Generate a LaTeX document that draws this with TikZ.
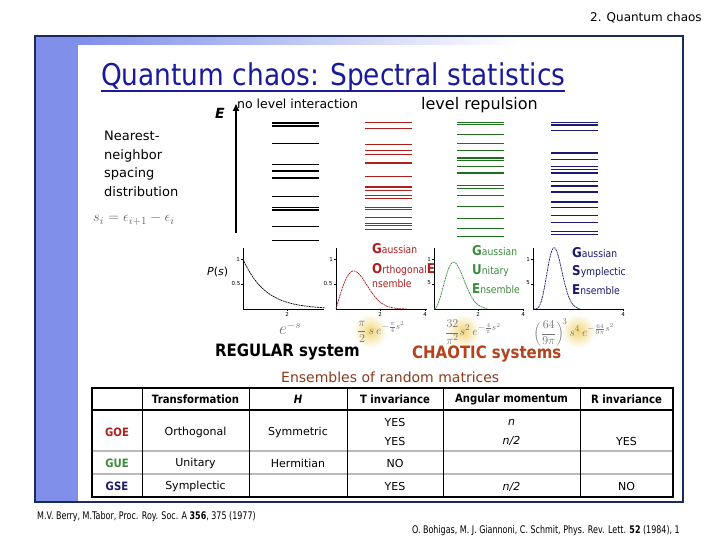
\documentclass[tikz,border=0pt]{standalone}
\usepackage{fontspec}
\setmainfont{DejaVu Sans}
\newfontfamily\nfont[FakeStretch=0.88]{DejaVu Sans}
\newfontfamily\rfont[FakeStretch=0.76]{DejaVu Sans}
\usetikzlibrary{arrows.meta}
\definecolor{framec}{HTML}{1C2A5C}
\definecolor{bandc}{HTML}{7F8FEA}
\definecolor{ttl}{HTML}{1A1A9C}
\definecolor{goer}{HTML}{B01E1E}
\definecolor{gueg}{HTML}{3D8B3D}
\definecolor{gueline}{HTML}{1E6E1E}
\definecolor{gsen}{HTML}{1A1A70}
\definecolor{chaosc}{HTML}{B5421C}
\definecolor{ensc}{HTML}{8C3A1E}
\definecolor{blobc}{RGB}{242,214,120}
\newcommand\fs[1]{\fontsize{#1}{#1}\selectfont}
\newcommand\initcap[2]{{\fs{13.5}\bfseries #1}{\fs{10.5}#2}}
\begin{document}
\begin{tikzpicture}[x=1pt,y=-1pt,
  txt/.style={inner sep=0},
  tk/.style={inner sep=0, font=\fs{5.5}},
  axisl/.style={line width=0.6pt},
  curvel/.style={line width=0.7pt, dash pattern=on 2pt off 0.7pt},
  formula/.style={inner sep=0, text=black!55},
  cell/.style={inner sep=0, font=\fs{11}},
  hcell/.style={inner sep=0, font=\nfont\bfseries\fs{11.5}},
  rcell/.style={inner sep=0, font=\nfont\bfseries\fs{11.5}}]
\useasboundingbox (0,0) rectangle (720,540);
\fill[white] (0,0) rectangle (720,540);
% frame
\fill[bandc] (36,37) rectangle (78,501);
\shade[left color=bandc, right color=white] (78,37) rectangle (520,45);
\draw[framec, line width=2.5pt] (35,36) rectangle (683,502);
% header
\node[txt, anchor=base west, font=\fs{12}] (hdr) at (590,22) {2. Quantum chaos};
% title
\node[txt, anchor=base west, text=ttl, font=\nfont\fs{30}] (title) at (101,86) {Quantum chaos: Spectral statistics};
\draw[ttl, line width=1.6pt] ([yshift=-5pt]title.base west) -- ([yshift=-5pt]title.base east);
% E axis
\node[txt, anchor=base, font=\bfseries\itshape\fs{14}] (E) at (220,119) {E};
\coordinate (ebot) at (236,233);
\coordinate (etop) at (236,104);
\draw[-{Triangle[width=6pt,length=7pt]}, line width=1.6pt] (ebot) -- (etop);
\node[txt, anchor=base west, font=\fs{12.5}] (nli) at (237,109) {no level interaction};
\node[txt, anchor=base west, font=\fs{16}] (lr) at (421,110) {level repulsion};
% nearest neighbour
\node[txt, anchor=base west, font=\fs{13}] (nn1) at (104,141) {Nearest-};
\node[txt, anchor=base west, font=\fs{13}] (nn2) at (104,159.5) {neighbor};
\node[txt, anchor=base west, font=\fs{13}] (nn3) at (104,178) {spacing};
\node[txt, anchor=base west, font=\fs{13}] (nn4) at (104,196.5) {distribution};
\node[txt, anchor=base west, text=black!60, font=\fs{15}] (sdef) at (93,222) {$s_i=\epsilon_{i+1}-\epsilon_i$};
% levels
\foreach \y/\w in {122.7/1.8,125.7/1.8,143.3/1,165/1,170.7/1.9,177.7/1.9,196.3/1,207.7/1,209.3/1,211/1,226.3/1,240/1}
  \draw[line width=\w pt] (272,\y) -- (319,\y);
\foreach \y/\w in {122.7/1,128.3/1,144.3/1,151/1,155/1,162.7/1.9,176.3/1,186.7/1.9,191/1,195.3/1,199/1,207.3/1,210/1,217.3/1,223.3/1,225.7/1,230/1}
  \draw[goer, line width=\w pt] (365,\y) -- (412,\y);
\foreach \y/\w in {122.7/1.1,124.3/1.1,135/1,144/1,150.7/1,157.7/1.8,161/1,166.3/1,172.7/1.8,185.3/1,188.3/1,195.3/1,206.3/1,219/1,229/1,236.3/1}
  \draw[gueline, line width=\w pt, dash pattern=on 1.6pt off 0.4pt] (457,\y) -- (504,\y);
\foreach \y in {122.7,125,130.7,153,159.3,166.7,169.7,173,181.3,186,192,202,207.7,215.3,222.3,231.3,234.3}
  \draw[gsen, line width=1.1pt] (551,\y) -- (598,\y);
% plot 1 regular
\begin{scope}[shift={(243,309)}, x=22pt, y=50pt]
  \draw[axisl] (0,1.22) -- (0,0) -- (3.7,0);
  \draw[axisl] (0,1) -- (-0.08,1) (0,0.5) -- (-0.08,0.5) (2,0) -- (2,-0.04);
  \draw[curvel] plot[domain=0:3.7, samples=60, smooth] (\x,{exp(-\x)});
\end{scope}
% plot 2 GOE
\begin{scope}[shift={(336,309)}, x=22.2pt, y=50pt]
  \draw[axisl] (0,1.22) -- (0,0) -- (4.1,0);
  \draw[axisl] (0,1) -- (-0.08,1) (0,0.5) -- (-0.08,0.5) (2,0) -- (2,-0.04) (4,0) -- (4,-0.04);
  \draw[curvel, goer] plot[domain=0:3.2, samples=60, smooth] (\x,{pi/2*\x*exp(-pi*\x*\x/4)});
\end{scope}
% plot 3 GUE
\begin{scope}[shift={(434,309)}, x=22.2pt, y=50pt]
  \draw[axisl] (0,1.22) -- (0,0) -- (4,0);
  \draw[axisl] (0,1) -- (-0.08,1) (0,0.5) -- (-0.08,0.5) (2,0) -- (2,-0.04) (4,0) -- (4,-0.04);
  \draw[curvel, gueg] plot[domain=0:2.4, samples=60, smooth] (\x,{32/(pi*pi)*\x*\x*exp(-4*\x*\x/pi)});
\end{scope}
% plot 4 GSE
\begin{scope}[shift={(533,309)}, x=22.5pt, y=50pt]
  \draw[axisl] (0,1.22) -- (0,0) -- (4,0);
  \draw[axisl] (0,1) -- (-0.08,1) (0,0.5) -- (-0.08,0.5) (4,0) -- (4,-0.04);
  \draw[curvel, gsen] plot[domain=0:2.1, samples=70, smooth] (\x,{(64/(9*pi))^3*\x*\x*\x*\x*exp(-64*\x*\x/(9*pi))});
\end{scope}
% tick labels
\node[tk] (t11) at (238,259) {1}; \node[tk] (t12) at (236,283) {0.5}; \node[tk] (t13) at (287,314) {2};
\node[tk] (t21) at (331,259) {1}; \node[tk] (t22) at (328,283) {0.5}; \node[tk] (t23) at (380,314) {2}; \node[tk] (t24) at (425,314) {4};
\node[tk] (t31) at (429,259) {1}; \node[tk] (t32) at (429,283) {5}; \node[tk] (t33) at (478,314) {2}; \node[tk] (t34) at (523,314) {4};
\node[tk] (t41) at (528,259) {1}; \node[tk] (t42) at (528,283) {5}; \node[tk] (t44) at (623,314) {4};
\node[txt, anchor=base west, font=\fs{11}] (ps) at (207,275) {\textit{P}(\textit{s})};
% ensemble labels
\node[txt, anchor=base west, text=goer, font=\nfont] (goe1) at (372,254) {\initcap{G}{aussian}};
\node[txt, anchor=base west, text=goer, font=\nfont] (goe2) at (372,273) {\initcap{O}{rthogonal}{\fs{13.5}\bfseries E}};
\node[txt, anchor=base west, text=goer, font=\nfont\fs{10.5}] (goe3) at (372,287) {nsemble};
\node[txt, anchor=base west, text=gueg, font=\nfont] (gue1) at (472,255) {\initcap{G}{aussian}};
\node[txt, anchor=base west, text=gueg, font=\nfont] (gue2) at (472,274) {\initcap{U}{nitary}};
\node[txt, anchor=base west, text=gueg, font=\nfont] (gue3) at (472,293) {\initcap{E}{nsemble}};
\node[txt, anchor=base west, text=gsen, font=\nfont] (gse1) at (572,257) {\initcap{G}{aussian}};
\node[txt, anchor=base west, text=gsen, font=\nfont] (gse2) at (572,275) {\initcap{S}{ymplectic}};
\node[txt, anchor=base west, text=gsen, font=\nfont] (gse3) at (572,294) {\initcap{E}{nsemble}};
% formula blobs
\shade[inner color=blobc, outer color=white] (370,331) circle (17);
\shade[inner color=blobc, outer color=white] (463,331) circle (17);
\shade[inner color=blobc, outer color=white] (578,331) circle (17);
\node[formula, font=\fs{16}] (f1) at (290,328) {$e^{-s}$};
\node[formula, font=\fs{13}] (f2) at (381,332) {$\displaystyle\frac{\pi}{2}\,s\,e^{-\frac{\pi}{4}s^2}$};
\node[formula, font=\fs{13}] (f3) at (473,332) {$\displaystyle\frac{32}{\pi^2}s^2\,e^{-\frac{4}{\pi}s^2}$};
\node[formula, font=\fs{13}] (f4) at (574,332) {$\displaystyle\left(\frac{64}{9\pi}\right)^{\!3} s^4\,e^{-\frac{64}{9\pi}s^2}$};
% systems
\node[txt, anchor=base west, font=\nfont\bfseries\fs{17}] (reg) at (215,356) {REGULAR system};
\node[txt, anchor=base west, text=chaosc, font=\nfont\bfseries\fs{17}] (cha) at (412,358) {CHAOTIC systems};
\node[txt, anchor=base west, text=ensc, font=\fs{14}] (ens) at (281,382) {Ensembles of random matrices};
% table
\draw[gray!55, line width=1.5pt] (92,451) -- (673,451) (92,474) -- (673,474);
\foreach \x in {142,249,347,443,580} \draw[line width=1pt] (\x,388) -- (\x,497);
\draw[line width=2pt] (92,410) -- (673,410);
\draw[line width=2pt] (92,388) rectangle (673,497);
\node[hcell] (h1) at (195.5,399.5) {Transformation};
\node[hcell] (h2) at (298,399.5) {\itshape H};
\node[hcell] (h3) at (395,399.5) {T invariance};
\node[hcell] (h4) at (511.5,399.5) {Angular momentum};
\node[hcell] (h5) at (626.5,399.5) {R invariance};
\node[rcell, text=goer] (goe) at (117,432) {GOE};
\node[cell] (c11) at (195.5,432) {Orthogonal};
\node[cell] (c12) at (298,432) {Symmetric};
\node[cell] (c13) at (395,422) {YES};
\node[cell] (c13b) at (395,441) {YES};
\node[cell] (c14) at (511.5,422) {\itshape n};
\node[cell] (c14b) at (511.5,441) {\itshape n/2};
\node[cell] (c15) at (626.5,441) {YES};
\node[rcell, text=gueg] (gue) at (117,463.5) {GUE};
\node[cell] (c21) at (195.5,463.5) {Unitary};
\node[cell] (c22) at (298,463.5) {Hermitian};
\node[cell] (c23) at (395,463.5) {NO};
\node[rcell, text=gsen] (gse) at (117,486.5) {GSE};
\node[cell] (c31) at (195.5,486.5) {Symplectic};
\node[cell] (c33) at (395,486.5) {YES};
\node[cell] (c34) at (511.5,486.5) {\itshape n/2};
\node[cell] (c35) at (626.5,486.5) {NO};
% references
\node[txt, anchor=base west, font=\rfont\fs{10.5}] (ref1) at (37,519) {M.V. Berry, M.Tabor, Proc. Roy. Soc. A \textbf{356}, 375 (1977)};
\node[txt, anchor=base east, font=\rfont\fs{10.5}] (ref2) at (680,533) {O. Bohigas, M. J. Giannoni, C. Schmit, Phys. Rev. Lett. \textbf{52} (1984), 1};
\end{tikzpicture}
\end{document}
